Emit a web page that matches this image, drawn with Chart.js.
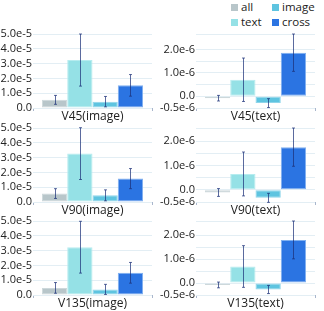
<!DOCTYPE html>
<html>
<head>
<meta charset="utf-8">
<script src="https://cdn.jsdelivr.net/npm/chart.js@4/dist/chart.umd.min.js"></script>
<style>
  html, body { margin:0; padding:0; background:#fff; }
  body { width:324px; height:311px; position:relative; overflow:hidden; font-family:"Open Sans", sans-serif; }
  canvas { position:absolute; }
  .lg { position:absolute; font-size:11.5px; color:#222; line-height:14px; white-space:nowrap; }
  .lg i { display:inline-block; width:7px; height:7px; margin-right:3px; vertical-align:0px; }
</style>
</head>
<body>
<div class="lg" style="left:231px;top:0px;"><i style="background:#b8c6ca"></i>all</div>
<div class="lg" style="left:272px;top:0px;"><i style="background:#5ec4e0"></i>image</div>
<div class="lg" style="left:231px;top:15px;"><i style="background:#95e1e6"></i>text</div>
<div class="lg" style="left:272px;top:15px;"><i style="background:#2b74e2"></i>cross</div>

<canvas id="c0"></canvas><canvas id="c1"></canvas>
<canvas id="c2"></canvas><canvas id="c3"></canvas>
<canvas id="c4"></canvas><canvas id="c5"></canvas>
<script>
// ---- data ----
const categories = ['all', 'text', 'image', 'cross'];
const colors = ['#b8c6ca', '#95e1e6', '#5ec4e0', '#2b74e2'];
const edgeColors = ['#cdd8db', '#b6ecef', '#8ed5ea', '#80b0f0'];
const titles = ['V45(image)', 'V45(text)', 'V90(image)', 'V90(text)', 'V135(image)', 'V135(text)'];

// image-target panels (values in units of 1e-5)
const v45Image    = [0.55, 3.24, 0.43, 1.53];
const v45ImageErr = [0.30, 1.76, 0.35, 0.73];
const v90Image    = [0.57, 3.27, 0.45, 1.58];
const v90ImageErr = [0.33, 1.75, 0.37, 0.68];
const v135Image    = [0.48, 3.23, 0.38, 1.50];
const v135ImageErr = [0.36, 1.75, 0.34, 0.70];

// text-target panels (values in units of 1e-6)
const v45Text    = [-0.08, 0.71, -0.29, 1.87];
const v45TextErr = [0.12, 0.93, 0.19, 0.80];
const v90Text    = [-0.11, 0.65, -0.33, 1.75];
const v90TextErr = [0.16, 0.90, 0.185, 0.785];
const v135Text    = [-0.08, 0.69, -0.27, 1.80];
const v135TextErr = [0.12, 0.87, 0.17, 0.79];

const imageTicks = [0, 1, 2, 3, 4, 5];          // x 1e-5
const textTickLabels = [-0.5, 0, 1, 2];          // x 1e-6 (labelled)

const panels = [
  {vals: v45Image,  errs: v45ImageErr,  unit: 1e-5, kind: 'image'},
  {vals: v45Text,   errs: v45TextErr,   unit: 1e-6, kind: 'text'},
  {vals: v90Image,  errs: v90ImageErr,  unit: 1e-5, kind: 'image'},
  {vals: v90Text,   errs: v90TextErr,   unit: 1e-6, kind: 'text'},
  {vals: v135Image, errs: v135ImageErr, unit: 1e-5, kind: 'image'},
  {vals: v135Text,  errs: v135TextErr,  unit: 1e-6, kind: 'text'}
];

// ---- layout ----
const rowTops = [26, 120, 213];
const FONT = '"Open Sans", sans-serif';

function makeErrorBars(p) {
  return {
    id: 'errorBars',
    afterDatasetsDraw(chart) {
      const {ctx} = chart;
      const ys = chart.scales.y;
      ctx.save();
      ctx.strokeStyle = 'rgba(28,48,120,0.72)';
      ctx.lineWidth = 1;
      chart.data.datasets.forEach((ds, i) => {
        const bar = chart.getDatasetMeta(i).data[0];
        if (!bar) return;
        const v = p.vals[i], e = p.errs[i];
        const x = Math.round(bar.x) + 0.5;
        const yt = ys.getPixelForValue((v + e) * p.unit);
        const yb = ys.getPixelForValue((v - e) * p.unit);
        ctx.beginPath();
        ctx.moveTo(x, yt); ctx.lineTo(x, yb);
        ctx.moveTo(x - 1.5, yt); ctx.lineTo(x + 1.5, yt);
        ctx.moveTo(x - 1.5, yb); ctx.lineTo(x + 1.5, yb);
        ctx.stroke();
      });
      ctx.restore();
    }
  };
}

panels.forEach((p, idx) => {
  const row = Math.floor(idx / 2), col = idx % 2;
  const cv = document.getElementById('c' + idx);
  const W = col === 0 ? 162 : 174;
  const H = 100;
  cv.width = W; cv.height = H;
  cv.style.width = W + 'px'; cv.style.height = H + 'px';
  cv.style.left = (col === 0 ? 0 : 150) + 'px';
  cv.style.top = rowTops[row] + 'px';
  const yAxisW = col === 0 ? 33 : 46;
  const padRight = col === 0 ? 10 : 9;

  let yMin, yMax, step;
  if (p.kind === 'image') {
    yMin = imageTicks[0] * p.unit; yMax = imageTicks[imageTicks.length - 1] * p.unit; step = 1e-5;
  } else {
    yMin = textTickLabels[0] * p.unit;
    yMax = Math.max(...p.vals.map((v, i) => v + p.errs[i])) * p.unit;
    step = 0.5e-6;
  }

  new Chart(cv, {
    type: 'bar',
    data: {
      labels: [''],
      datasets: categories.map((c, i) => ({
        label: c,
        data: [p.vals[i] * p.unit],
        backgroundColor: colors[i],
        borderColor: edgeColors[i],
        borderWidth: 1,
        borderSkipped: false,
        categoryPercentage: 0.85,
        barPercentage: 1.0
      }))
    },
    options: {
      responsive: false,
      animation: false,
      devicePixelRatio: 1,
      layout: {padding: {top: 8, right: padRight, left: 0, bottom: 0}},
      plugins: {legend: {display: false}, tooltip: {enabled: false}},
      scales: {
        x: {
          grid: {display: true, drawOnChartArea: false, drawTicks: true, tickLength: 3, color: '#a9b6cc'},
          border: {display: false},
          ticks: {display: false},
          title: {display: true, text: titles[idx], color: '#222', font: {family: FONT, size: 12}, padding: {top: 0, bottom: 2}},
          afterFit(s) { s.height = 18; }
        },
        y: {
          min: yMin, max: yMax,
          grid: {color: '#e3eef4', drawTicks: false},
          border: {display: false},
          ticks: {
            stepSize: step,
            autoSkip: false,
            padding: 1,
            color: '#222',
            font: {family: FONT, size: 11},
            callback(v) {
              const u = v / p.unit;
              if (Math.abs(u) < 1e-9) return '0.0';
              if (p.kind === 'image') {
                return u.toFixed(1) + 'e-5';
              }
              const ok = textTickLabels.some(t => Math.abs(t - u) < 1e-6);
              return ok ? u.toFixed(1) + 'e-6' : '';
            }
          },
          afterFit(s) { s.width = yAxisW; }
        }
      }
    },
    plugins: [makeErrorBars(p)]
  });
});
</script>
</body>
</html>
